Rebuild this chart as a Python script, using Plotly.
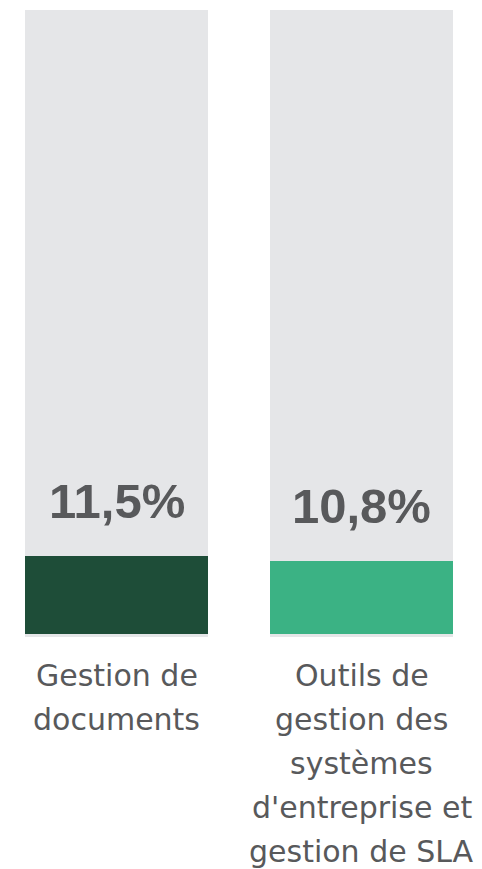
import plotly.graph_objects as go

# Survey shares (percent) per tool category
categories = ["Gestion de documents", "Outils de gestion des systèmes d'entreprise et gestion de SLA"]
label_lines = [
    ["Gestion de", "documents"],
    ["Outils de", "gestion des", "systèmes", "d'entreprise et", "gestion de SLA"],
]
values = [11.5, 10.8]
value_labels = ["11,5%", "10,8%"]
bar_colors = ["#1e4d38", "#3bb284"]

TRACK_COLOR = "#e5e6e8"
TEXT_COLOR = "#58595b"
HALF_W = 0.3735  # half bar width in category units
Y_MIN, Y_MAX = -0.44, 92.1

x = list(range(len(categories)))

fig = go.Figure()
fig.add_trace(go.Bar(
    x=x, y=values, width=HALF_W * 2,
    marker=dict(color=bar_colors, line=dict(width=0)),
    hoverinfo="skip",
))

# grey tracks behind each bar, spanning the full plot height
shapes = []
for i in x:
    shapes.append(dict(type="rect", xref="x", yref="paper",
                       x0=i - HALF_W, x1=i + HALF_W, y0=0, y1=1,
                       fillcolor=TRACK_COLOR, line=dict(width=0), layer="below"))

annotations = []
for i, (v, lab) in enumerate(zip(values, value_labels)):
    annotations.append(dict(
        x=i, y=v, xref="x", yref="y", text=lab, showarrow=False,
        yanchor="bottom", yshift=26,
        font=dict(family="Liberation Sans, Arial, sans-serif", size=49, color=TEXT_COLOR, weight="bold"),
    ))

LINE_H = 44
for i, lines in enumerate(label_lines):
    for j, line in enumerate(lines):
        annotations.append(dict(
            x=i, y=0, xref="x", yref="paper", text=line, showarrow=False,
            yanchor="top", yshift=-19 - j * LINE_H,
            font=dict(family="DejaVu Sans, sans-serif", size=30, color=TEXT_COLOR),
        ))

fig.update_layout(
    width=482, height=869,
    margin=dict(l=25, r=29, t=10, b=232),
    paper_bgcolor="white", plot_bgcolor="white",
    showlegend=False,
    shapes=shapes, annotations=annotations,
    xaxis=dict(range=[-HALF_W, len(categories) - 1 + HALF_W], visible=False, fixedrange=True),
    yaxis=dict(range=[Y_MIN, Y_MAX], visible=False, fixedrange=True),
    bargap=0,
)

fig.write_html("out.html", config={"displayModeBar": False})
